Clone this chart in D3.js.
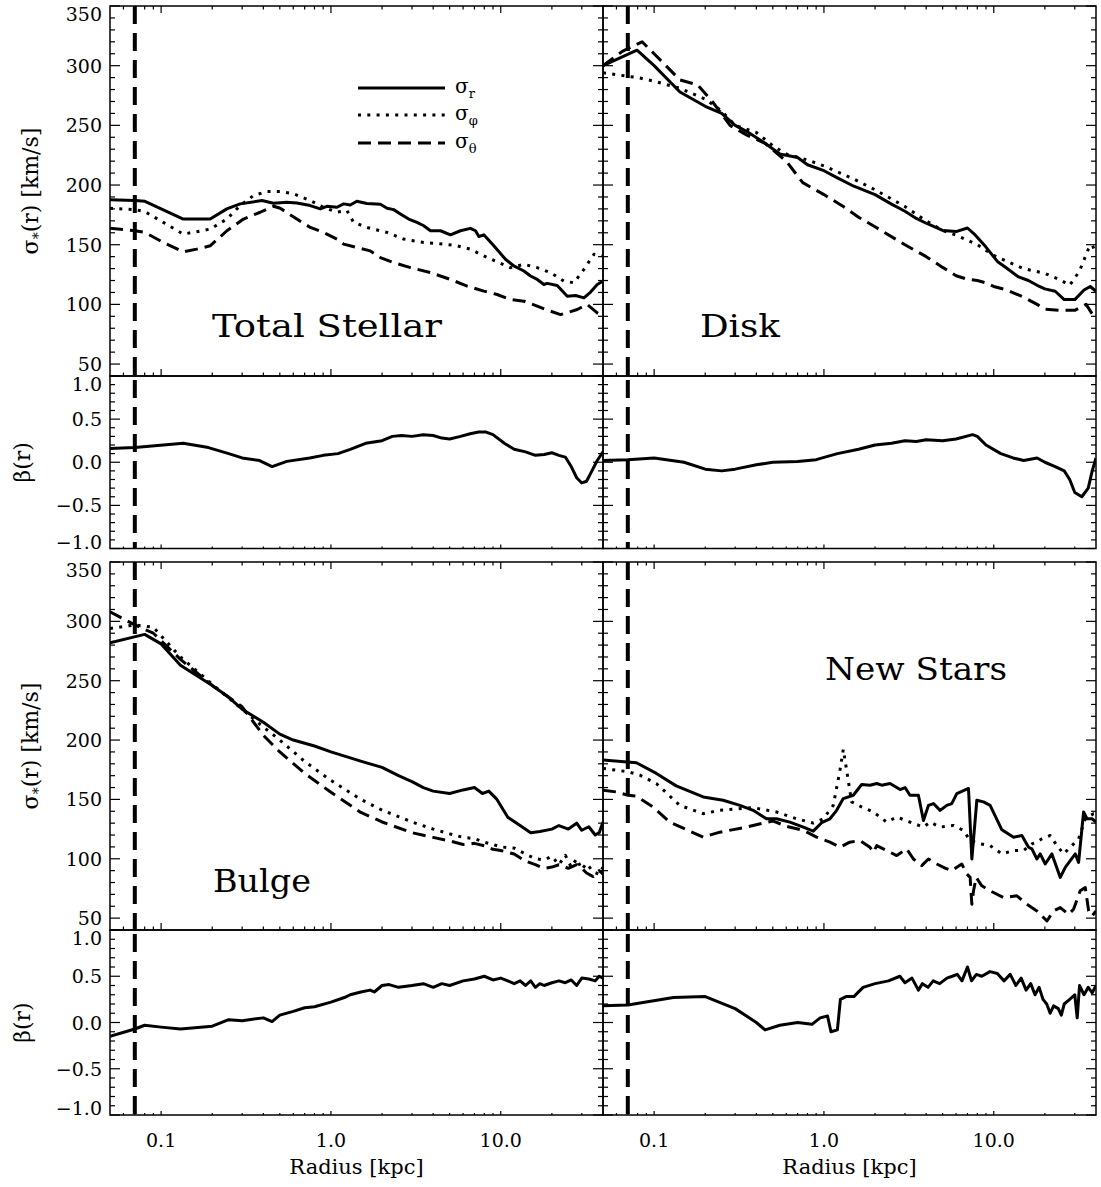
<!DOCTYPE html>
<html>
<head>
<meta charset="utf-8">
<script src="https://cdn.jsdelivr.net/npm/d3@7"></script>
<style>
  body { margin: 0; background: #fff; }
  svg { display: block; }
  text { font-family: "DejaVu Serif", serif; fill: #000; }
</style>
</head>
<body>
<svg id="chart" width="1101" height="1187"></svg>
<script>
// ---------------- data: [radius (kpc), value] ----------------
const totalSigmaR = [[0.05,187.6],[0.0702,187.0],[0.0803,186.4],[0.135,171.5],[0.1945,171.5],[0.2437,180.0],[0.292,184.2],[0.392,187.0],[0.459,184.7],[0.55,185.6],[0.63,185.0],[0.756,182.8],[0.865,180.0],[0.947,182.2],[1.085,181.4],[1.188,184.2],[1.30,183.3],[1.42,186.4],[1.63,184.5],[1.954,183.9],[2.14,180.5],[2.342,179.4],[2.564,175.8],[2.87,171.5],[3.21,168.7],[3.52,165.9],[3.855,161.7],[4.415,161.7],[5.055,158.3],[5.79,161.7],[6.63,163.7],[7.10,161.7],[7.43,156.9],[7.95,158.3],[9.10,149.1],[10.66,137.8],[11.94,132.2],[13.68,128.0],[14.98,123.8],[16.40,120.9],[17.95,116.7],[18.78,117.6],[21.51,115.9],[24.64,106.9],[27.59,107.5],[30.9,105.5],[33.8,110.3],[37.0,116.7],[40,119.5]];
const totalSigmaPhi = [[0.05,180.5],[0.0702,179.4],[0.0803,177.7],[0.103,168.7],[0.135,158.9],[0.162,160.9],[0.1945,163.1],[0.244,171.5],[0.292,182.8],[0.35,191.2],[0.419,194.6],[0.503,194.6],[0.603,192.6],[0.756,187.0],[0.905,181.4],[1.085,177.2],[1.243,178.6],[1.36,168.7],[1.63,164.5],[2.14,160.3],[2.683,154.7],[3.52,151.9],[4.617,150.5],[5.53,149.1],[6.63,146.2],[7.95,140.6],[9.52,135.6],[11.41,130.8],[13.68,133.6],[16.40,130.8],[19.65,126.6],[23.55,119.5],[26.98,118.1],[30.9,129.4],[35.4,142.0],[40,140.6]];
const totalSigmaTheta = [[0.05,163.7],[0.0702,161.7],[0.0803,160.3],[0.103,151.9],[0.135,144.0],[0.162,146.3],[0.1945,149.1],[0.244,161.7],[0.3056,171.5],[0.383,177.2],[0.459,182.2],[0.503,180.5],[0.63,171.5],[0.756,164.5],[0.905,160.3],[1.085,154.7],[1.188,150.5],[1.42,147.7],[1.706,144.8],[1.954,139.2],[2.342,135.0],[2.94,130.8],[3.855,126.6],[5.055,120.9],[6.34,115.3],[7.95,111.1],[9.52,108.3],[11.41,104.1],[13.68,102.7],[16.40,98.5],[19.65,94.3],[22.5,91.4],[28.2,95.7],[32.3,99.9],[37.0,92.9],[40,90.0]];
const totalBeta = [[0.05,0.16],[0.07,0.17],[0.135,0.22],[0.19,0.17],[0.25,0.10],[0.30,0.05],[0.38,0.02],[0.45,-0.05],[0.55,0.01],[0.75,0.05],[0.9,0.08],[1.1,0.10],[1.3,0.15],[1.6,0.22],[2.0,0.25],[2.3,0.30],[2.6,0.31],[3.0,0.30],[3.5,0.32],[4.0,0.31],[4.5,0.28],[5.0,0.27],[5.8,0.30],[6.6,0.33],[7.4,0.35],[8.2,0.35],[9.0,0.32],[10.5,0.22],[12,0.15],[14,0.12],[16,0.08],[18,0.09],[20,0.11],[22,0.08],[24,0.06],[26,-0.05],[28,-0.18],[30,-0.24],[32,-0.22],[34,-0.12],[37,0.02],[40,0.12]];

const diskSigmaR = [[0.05,300],[0.0793,313],[0.1,300],[0.142,278],[0.2,266],[0.25,260],[0.3,250],[0.35,245],[0.45,235],[0.55,226],[0.7,223],[0.8,217],[1.0,212],[1.2,206],[1.5,199],[2.0,192],[2.5,184],[3.0,178],[3.5,172],[4.0,168],[5.0,162],[6.0,161],[7.0,164],[7.8,158],[9.0,148],[10.5,136],[12,130],[14,123],[16,120],[18,116],[20,113],[23,111],[26,104],[30,104],[34,112],[37,115],[40,111]];
const diskSigmaPhi = [[0.05,294],[0.08,290],[0.1,287],[0.142,281],[0.2,272],[0.25,262],[0.3,250],[0.4,244],[0.5,233],[0.6,226],[0.8,221],[1.0,216],[1.5,205],[2.0,196],[3.0,182],[4.0,170],[5.0,162],[6.0,158],[8,150],[10,141],[12,136],[15,130],[20,126],[25,120],[28,116],[32,128],[36,146],[38,150],[40,142]];
const diskSigmaTheta = [[0.05,300],[0.065,312],[0.085,320],[0.1,310],[0.142,288],[0.18,284],[0.22,270],[0.28,250],[0.35,242],[0.45,235],[0.6,220],[0.75,202],[1.0,192],[1.3,182],[1.6,173],[2.0,165],[3.0,150],[4.0,140],[5.0,131],[6.0,124],[7.0,121],[8.0,120],[9,118],[10,115],[12,112],[15,106],[18,100],[20,96],[25,95],[30,95],[35,100],[38,92],[40,88]];
const diskBeta = [[0.05,0.02],[0.07,0.03],[0.1,0.05],[0.15,0.0],[0.2,-0.08],[0.25,-0.10],[0.3,-0.08],[0.4,-0.03],[0.5,0.0],[0.7,0.01],[0.9,0.03],[1.2,0.10],[1.6,0.15],[2.0,0.20],[2.5,0.22],[3.0,0.25],[3.5,0.24],[4.0,0.26],[5.0,0.25],[6.0,0.27],[7.5,0.32],[8.0,0.30],[9.0,0.20],[11,0.10],[13,0.05],[15,0.02],[18,0.05],[20,0.0],[23,-0.05],[26,-0.10],[28,-0.20],[30,-0.35],[33,-0.40],[36,-0.30],[38,-0.10],[40,0.05]];

const bulgeSigmaR = [[0.05,282],[0.08,289],[0.1,281],[0.13,263],[0.2,246],[0.25,236],[0.3,226],[0.4,215],[0.5,205],[0.6,200],[0.8,195],[1.0,190],[1.3,185],[1.6,181],[2.0,177],[2.5,170],[3.0,165],[3.5,160],[4,157],[5,155],[6,158],[7,160],[7.8,155],[8.5,157],[9.5,150],[11,135],[13,128],[15,122],[17,123],[20,125],[22,128],[25,125],[28,130],[30,124],[33,127],[36,120],[38,122],[40,131]];
const bulgeSigmaPhi = [[0.05,294],[0.07,297],[0.09,295],[0.13,270],[0.2,247],[0.3,226],[0.4,211],[0.5,200],[0.7,182],[1.0,166],[1.5,150],[2.0,141],[3,131],[4,125],[5,121],[6,118],[7,117],[8,114],[9,112],[10,110],[12,109],[14,104],[16,100],[18,99],[20,102],[22,95],[24,103],[26,93],[28,100],[30,91],[32,96],[35,89],[38,87],[40,93]];
const bulgeSigmaTheta = [[0.05,308],[0.07,297],[0.09,290],[0.13,268],[0.2,246],[0.3,228],[0.4,204],[0.5,190],[0.7,172],[1.0,156],[1.5,139],[2,131],[3,122],[4,118],[5,115],[6,112],[7,113],[8,111],[9,108],[10,107],[12,104],[14,98],[16,95],[18,92],[20,93],[22,95],[25,92],[28,95],[30,92],[32,88],[35,85],[38,90],[40,87]];
const bulgeBeta = [[0.05,-0.15],[0.07,-0.07],[0.08,-0.03],[0.1,-0.05],[0.13,-0.07],[0.2,-0.04],[0.25,0.03],[0.3,0.02],[0.4,0.05],[0.45,0.01],[0.5,0.08],[0.6,0.12],[0.7,0.16],[0.8,0.17],[1.0,0.22],[1.2,0.27],[1.3,0.30],[1.5,0.33],[1.7,0.35],[1.8,0.33],[2.0,0.40],[2.2,0.41],[2.5,0.38],[3.0,0.40],[3.5,0.42],[4,0.38],[4.5,0.42],[5,0.40],[6,0.45],[7,0.47],[8,0.50],[9,0.46],[10,0.48],[11,0.45],[12,0.42],[13,0.45],[14,0.40],[15,0.45],[16,0.38],[17,0.42],[18,0.40],[20,0.43],[22,0.45],[24,0.43],[26,0.46],[28,0.40],[30,0.48],[33,0.47],[36,0.45],[38,0.50],[40,0.48]];

const newSigmaR = [[0.05,183.2],[0.0786,180.9],[0.1031,171.9],[0.135,161.4],[0.1945,152.1],[0.255,149.3],[0.32,145.0],[0.383,140.8],[0.459,133.7],[0.526,133.7],[0.63,130.9],[0.756,126.7],[0.865,123.3],[0.969,130.4],[1.085,133.7],[1.188,140.8],[1.30,150.7],[1.489,153.5],[1.668,162.6],[1.867,162.0],[2.045,163.4],[2.188,162.0],[2.451,163.4],[2.807,158.3],[3.004,160.0],[3.21,153.5],[3.60,153.5],[3.855,132.3],[4.125,145.0],[4.415,146.5],[4.83,140.8],[5.288,145.0],[5.66,146.5],[6.06,154.9],[7.10,159.2],[7.43,99.8],[7.95,149.3],[8.70,147.9],[9.52,145.0],[11.16,124.4],[13.08,118.2],[14.64,119.6],[16.03,109.7],[16.77,108.3],[17.95,99.8],[18.78,104.1],[20.1,95.6],[22.0,104.1],[24.64,84.3],[26.38,92.8],[30.2,104.1],[31.6,97.0],[33.8,139.4],[35.4,133.7],[37.9,133.7],[40,130.9]];
const newSigmaPhi = [[0.05,176.1],[0.0702,173.3],[0.0823,170.5],[0.1031,163.4],[0.1416,145.0],[0.1945,138.0],[0.2437,140.8],[0.383,143.1],[0.526,139.4],[0.69,133.7],[0.865,130.1],[0.991,133.7],[1.135,145.0],[1.243,174.7],[1.30,192.2],[1.36,174.7],[1.456,147.9],[1.668,143.6],[1.954,139.4],[2.342,130.9],[2.683,135.2],[3.21,130.9],[3.855,126.7],[4.219,130.9],[4.83,126.7],[5.79,128.1],[6.63,123.9],[7.26,115.4],[8.32,112.6],[9.52,111.1],[11.16,104.1],[13.08,106.9],[14.98,106.9],[16.77,112.6],[17.95,114.0],[19.21,116.8],[21.51,119.6],[23.55,111.1],[25.78,104.1],[28.2,109.7],[31.6,116.8],[34.6,133.7],[38.7,138.0],[40,137.4]];
const newSigmaTheta = [[0.05,157.8],[0.0599,156.3],[0.0702,153.5],[0.0786,152.7],[0.0986,143.6],[0.1236,130.9],[0.1945,118.2],[0.2437,122.4],[0.35,126.7],[0.4388,130.1],[0.503,131.8],[0.603,127.3],[0.756,123.9],[0.905,118.2],[1.085,114.0],[1.243,109.7],[1.42,114.0],[1.63,115.4],[1.867,109.7],[1.954,105.5],[2.045,111.1],[2.342,106.9],[2.683,102.7],[3.073,108.3],[3.364,99.8],[3.767,94.2],[4.125,99.8],[4.617,95.6],[5.17,92.2],[5.66,90.0],[6.48,95.6],[6.94,87.2],[7.26,84.3],[7.43,61.7],[7.60,73.0],[7.88,84.3],[8.51,77.2],[9.52,73.0],[11.41,67.4],[13.68,68.8],[15.67,61.7],[17.95,56.1],[20.56,47.6],[22.5,56.1],[24.64,58.9],[27.59,53.2],[29.5,57.5],[32.3,73.0],[34.6,75.8],[36.2,56.1],[37.9,51.8],[40,56.1]];
const newBeta = [[0.05,0.18],[0.07,0.19],[0.13,0.27],[0.2,0.28],[0.3,0.15],[0.4,0.0],[0.45,-0.08],[0.55,-0.03],[0.7,0.0],[0.85,-0.02],[0.95,0.05],[1.05,0.07],[1.1,-0.10],[1.2,-0.08],[1.25,0.25],[1.35,0.28],[1.5,0.28],[1.7,0.38],[2.0,0.42],[2.4,0.45],[2.8,0.50],[3.0,0.43],[3.3,0.48],[3.6,0.35],[3.8,0.42],[4.1,0.38],[4.4,0.45],[4.8,0.42],[5.3,0.48],[5.7,0.50],[6.1,0.52],[6.5,0.45],[7.0,0.60],[7.4,0.45],[7.9,0.52],[8.5,0.50],[9.5,0.55],[10.5,0.53],[11.5,0.45],[12.5,0.52],[13.5,0.40],[14.5,0.48],[15.5,0.35],[16.5,0.42],[17.5,0.30],[18.5,0.38],[19.5,0.25],[20.5,0.20],[21.5,0.10],[22.5,0.18],[24,0.15],[25,0.08],[26,0.20],[28,0.25],[30,0.30],[31,0.05],[32,0.40],[34,0.30],[36,0.38],[38,0.32],[40,0.40]];

// axis ticks and labels
const radiusTickValues = [0.1, 1, 10];
const radiusTickLabels = ["0.1", "1.0", "10.0"];
const sigmaTickValues = [50, 100, 150, 200, 250, 300, 350];
const sigmaTickLabels = ["50", "100", "150", "200", "250", "300", "350"];
const betaTickValues = [-1, -0.5, 0, 0.5, 1];
const betaTickLabels = ["\u22121.0", "\u22120.5", "0.0", "0.5", "1.0"];
const panelNames = ["Total Stellar", "Disk", "Bulge", "New Stars"];
const legendSubscripts = ["r", "\u03c6", "\u03b8"];
const innerRadius = 0.07;   // kpc, vertical marker

// ---------------- layout ----------------
const svg = d3.select("#chart");
svg.append("rect").attr("width", 1101).attr("height", 1187).attr("fill", "#fff");

const xDomain = [0.05, 40];
const sigmaDomain = [40, 350];
const betaDomain = [-1, 1];
const cols = [[110, 603], [603, 1096]];
const sigmaRows = [[6, 376], [562, 930]];
const betaRows = [[376, 548.5], [930, 1115]];

const lineStyles = [
  { width: 3, dash: null },
  { width: 3, dash: "3 6.3" },
  { width: 3, dash: "13 7" }
];

const panels = [
  { col: 0, row: 0, name: panelNames[0], sigma: [totalSigmaR, totalSigmaPhi, totalSigmaTheta], beta: totalBeta, label: { x: 212, y: 337, w: 230 } },
  { col: 1, row: 0, name: panelNames[1], sigma: [diskSigmaR, diskSigmaPhi, diskSigmaTheta], beta: diskBeta, label: { x: 700, y: 337, w: 80 } },
  { col: 0, row: 1, name: panelNames[2], sigma: [bulgeSigmaR, bulgeSigmaPhi, bulgeSigmaTheta], beta: bulgeBeta, label: { x: 213, y: 892, w: 98 } },
  { col: 1, row: 1, name: panelNames[3], sigma: [newSigmaR, newSigmaPhi, newSigmaTheta], beta: newBeta, label: { x: 825, y: 680, w: 182 } }
];

let clipId = 0;
function clipRect(x0, x1, y0, y1) {
  const id = "clip" + (clipId++);
  svg.append("clipPath").attr("id", id).append("rect")
    .attr("x", x0).attr("y", y0).attr("width", x1 - x0).attr("height", y1 - y0);
  return "url(#" + id + ")";
}

function minorLogTicks() {
  const t = [];
  [0.01, 0.1, 1, 10].forEach(dec => {
    for (let k = 2; k <= 9; k++) {
      const v = k * dec;
      if (v > xDomain[0] && v < xDomain[1]) t.push(v);
    }
  });
  return t;
}

function drawFrame(x, y, x0, x1, y0, y1, yMajor, yMinor, xTickLen, topTicks) {
  const g = svg.append("g").attr("stroke", "#000").attr("fill", "none");
  g.append("rect").attr("x", x0).attr("y", y0).attr("width", x1 - x0).attr("height", y1 - y0)
    .attr("stroke-width", 1.5);
  // x ticks (inward)
  const xt = [...radiusTickValues.map(v => [v, xTickLen]), ...minorLogTicks().map(v => [v, xTickLen / 2])];
  xt.forEach(([v, len]) => {
    const px = x(v);
    g.append("line").attr("x1", px).attr("x2", px).attr("y1", y1).attr("y2", y1 - len).attr("stroke-width", 1.2);
    if (topTicks) g.append("line").attr("x1", px).attr("x2", px).attr("y1", y0).attr("y2", y0 + len).attr("stroke-width", 1.2);
  });
  // y ticks (inward, both sides)
  const yt = [...yMajor.map(v => [v, 10]), ...yMinor.map(v => [v, 5])];
  yt.forEach(([v, len]) => {
    const py = y(v);
    if (py < y0 - 0.5 || py > y1 + 0.5) return;
    g.append("line").attr("x1", x0).attr("x2", x0 + len).attr("y1", py).attr("y2", py).attr("stroke-width", 1.2);
    g.append("line").attr("x1", x1).attr("x2", x1 - len).attr("y1", py).attr("y2", py).attr("stroke-width", 1.2);
  });
}

function drawYLabels(y, values, labels, y0, y1) {
  values.forEach((v, i) => {
    let py = y(v);
    py = Math.max(y0 + 8, Math.min(y1 - 7, py));
    svg.append("text").attr("x", 102).attr("y", py).attr("text-anchor", "end")
      .attr("dominant-baseline", "central").attr("font-size", 19).text(labels[i]);
  });
}

const sigmaMinor = d3.range(40, 351, 10).filter(v => v % 50 !== 0);
const betaMinor = d3.range(-10, 11, 1).map(v => v / 10).filter(v => Math.abs(v * 2 - Math.round(v * 2)) > 1e-6);

panels.forEach(p => {
  const [x0, x1] = cols[p.col];
  const [sy0, sy1] = sigmaRows[p.row];
  const [by0, by1] = betaRows[p.row];
  const x = d3.scaleLog().domain(xDomain).range([x0, x1]);
  const ys = d3.scaleLinear().domain(sigmaDomain).range([sy1, sy0]);
  const yb = d3.scaleLinear().domain(betaDomain).range([by1, by0]);

  // velocity dispersion curves
  const cs = clipRect(x0, x1, sy0, sy1);
  const gs = svg.append("g").attr("clip-path", cs);
  const lineS = d3.line().x(d => x(d[0])).y(d => ys(d[1]));
  p.sigma.forEach((series, i) => {
    gs.append("path").datum(series).attr("d", lineS).attr("fill", "none")
      .attr("stroke", "#000").attr("stroke-width", lineStyles[i].width)
      .attr("stroke-dasharray", lineStyles[i].dash).attr("stroke-linejoin", "round");
  });
  gs.append("line").attr("x1", x(innerRadius)).attr("x2", x(innerRadius)).attr("y1", sy0).attr("y2", sy1)
    .attr("stroke", "#000").attr("stroke-width", 4).attr("stroke-dasharray", "18 9");

  // anisotropy curve
  const cb = clipRect(x0, x1, by0, by1);
  const gb = svg.append("g").attr("clip-path", cb);
  const lineB = d3.line().x(d => x(d[0])).y(d => yb(d[1]));
  gb.append("path").datum(p.beta).attr("d", lineB).attr("fill", "none")
    .attr("stroke", "#000").attr("stroke-width", 3).attr("stroke-linejoin", "round");
  gb.append("line").attr("x1", x(innerRadius)).attr("x2", x(innerRadius)).attr("y1", by0 + 4).attr("y2", by1)
    .attr("stroke", "#000").attr("stroke-width", 4).attr("stroke-dasharray", "18 9");

  drawFrame(x, ys, x0, x1, sy0, sy1, sigmaTickValues, sigmaMinor, 7, true);
  drawFrame(x, yb, x0, x1, by0, by1, betaTickValues, betaMinor, 4, false);

  // panel name
  svg.append("text").attr("x", p.label.x).attr("y", p.label.y).attr("font-size", 32)
    .attr("textLength", p.label.w).attr("lengthAdjust", "spacingAndGlyphs").text(p.name);

  if (p.col === 0) {
    drawYLabels(ys, sigmaTickValues, sigmaTickLabels, sy0, sy1);
    drawYLabels(yb, betaTickValues, betaTickLabels, by0, by1);
    const ts = svg.append("text").attr("font-size", 22).attr("text-anchor", "middle")
      .attr("transform", `translate(38,${(sy0 + sy1) / 2}) rotate(-90)`);
    ts.append("tspan").text("\u03c3");
    ts.append("tspan").attr("font-size", 14).attr("dy", 5).text("*");
    ts.append("tspan").attr("dy", -5).text("(r) [km/s]");
    svg.append("text").attr("font-size", 22).attr("text-anchor", "middle")
      .attr("transform", `translate(30,${(by0 + by1) / 2}) rotate(-90)`).text("\u03b2(r)");
  }
  if (p.row === 1) {
    radiusTickValues.forEach((v, i) => {
      svg.append("text").attr("x", x(v)).attr("y", 1147).attr("text-anchor", "middle")
        .attr("font-size", 19).text(radiusTickLabels[i]);
    });
    svg.append("text").attr("x", (x0 + x1) / 2).attr("y", 1174).attr("text-anchor", "middle")
      .attr("font-size", 21).text("Radius [kpc]");
  }
});

// legend (top-left panel)
const legendRows = [88, 115, 143];
legendRows.forEach((ly, i) => {
  svg.append("line").attr("x1", 358).attr("x2", 445).attr("y1", ly).attr("y2", ly)
    .attr("stroke", "#000").attr("stroke-width", lineStyles[i].width)
    .attr("stroke-dasharray", lineStyles[i].dash);
  const t = svg.append("text").attr("x", 455).attr("y", ly + 5).attr("font-size", 20);
  t.append("tspan").text("\u03c3");
  t.append("tspan").attr("font-size", 13).attr("dy", 5).text(legendSubscripts[i]);
});
</script>
</body>
</html>
